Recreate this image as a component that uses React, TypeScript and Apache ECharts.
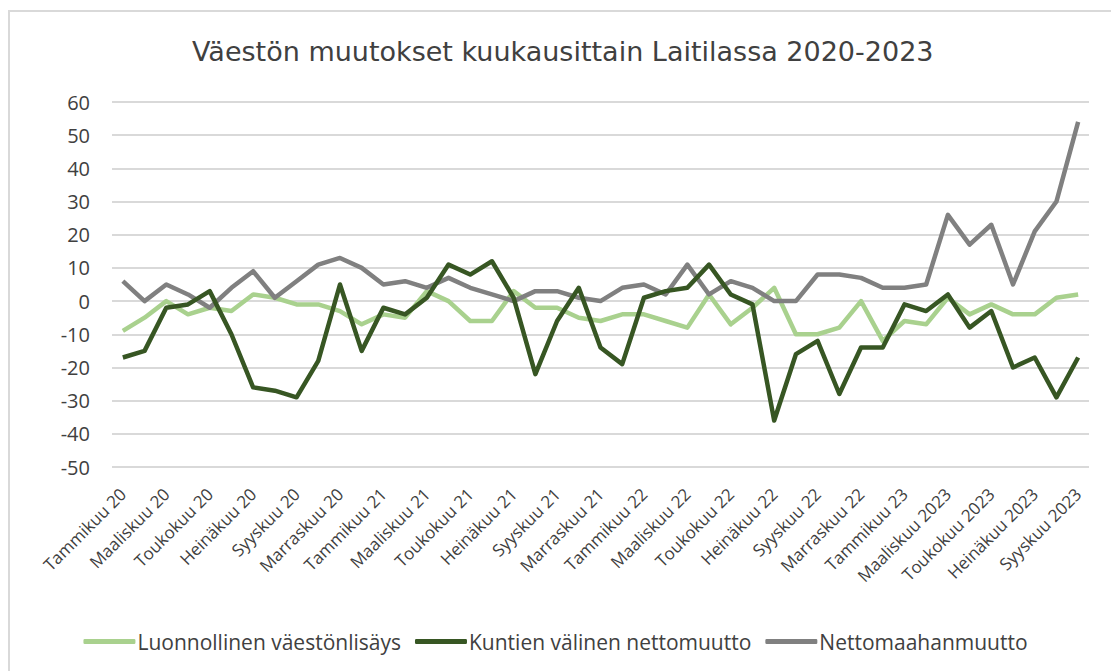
import React, { useEffect, useRef } from "react";
import * as echarts from "echarts";

const months = ["Tammikuu", "Helmikuu", "Maaliskuu", "Huhtikuu", "Toukokuu", "Kesäkuu", "Heinäkuu", "Elokuu", "Syyskuu", "Lokakuu", "Marraskuu", "Joulukuu"];
const categories: string[] = [
  ...months.map((m) => m + " 20"),
  ...months.map((m) => m + " 21"),
  ...months.map((m) => m + " 22"),
  "Tammikuu 23", "Helmikuu 2023", "Maaliskuu 2023", "Huhtikuu 2023", "Toukokuu 2023",
  "Kesäkuu 2023", "Heinäkuu 2023", "Elokuu 2023", "Syyskuu 2023",
];

const luonnollinen = [
  -9, -5, 0, -4, -2, -3, 2, 1, -1, -1, -3, -7, -4, -5, 3,
  0, -6, -6, 3, -2, -2, -5, -6, -4, -4, -6, -8, 2, -7, -2,
  4, -10, -10, -8, 0, -12, -6, -7, 1, -4, -1, -4, -4, 1, 2,
];
const kuntien = [
  -17, -15, -2, -1, 3, -10, -26, -27, -29, -18, 5, -15, -2, -4, 1,
  11, 8, 12, 1, -22, -6, 4, -14, -19, 1, 3, 4, 11, 2, -1,
  -36, -16, -12, -28, -14, -14, -1, -3, 2, -8, -3, -20, -17, -29, -17,
];
const netto = [
  6, 0, 5, 2, -2, 4, 9, 1, 6, 11, 13, 10, 5, 6, 4,
  7, 4, 2, 0, 3, 3, 1, 0, 4, 5, 2, 11, 2, 6, 4,
  0, 0, 8, 8, 7, 4, 4, 5, 26, 17, 23, 5, 21, 30, 54,
];

const seriesNames = ["Luonnollinen väestönlisäys", "Kuntien välinen nettomuutto", "Nettomaahanmuutto"];
const colors = ["#A9D18E", "#375623", "#808080"];

export default function App() {
  const ref = useRef<HTMLDivElement>(null);
  useEffect(() => {
    if (!ref.current) return;
    const chart = echarts.init(ref.current, null, { renderer: "svg" });
    const datas = [luonnollinen, kuntien, netto];
    chart.setOption({
      animation: false,
      backgroundColor: "#ffffff",
      title: {
        text: "Väestön muutokset kuukausittain Laitilassa 2020-2023",
        left: 187,
        top: 33,
        textStyle: { fontFamily: "DejaVu Sans", fontSize: 27, fontWeight: "normal", color: "#404040" },
      },
      graphic: [
        {
          type: "rect",
          shape: { x: 9, y: 11, width: 1200, height: 800 },
          style: { fill: "none", stroke: "#D9D9D9", lineWidth: 2 },
          silent: true,
        },
      ],
      legend: {
        top: 626,
        left: "center",
        itemWidth: 52,
        itemHeight: 5,
        itemGap: 14,
        icon: "roundRect",
        textStyle: { fontFamily: "Open Sans", fontSize: 21, color: "#404040", padding: [0, 0, 0, -3] },
        data: seriesNames,
      },
      grid: { left: 112, right: 22, top: 102, bottom: 204, containLabel: false },
      xAxis: {
        type: "category",
        data: categories,
        boundaryGap: true,
        axisLine: { show: false },
        axisTick: { show: false },
        axisLabel: {
          interval: 1,
          rotate: 45,
          fontFamily: "Open Sans",
          fontSize: 17,
          color: "#404040",
          margin: 24,
        },
      },
      yAxis: {
        type: "value",
        min: -50,
        max: 60,
        interval: 10,
        axisLine: { show: false },
        axisTick: { show: false },
        axisLabel: { fontFamily: "Open Sans", fontSize: 20, color: "#404040", margin: 22 },
        splitLine: { lineStyle: { color: "#D9D9D9", width: 2 } },
      },
      series: datas.map((d, i) => ({
        name: seriesNames[i],
        type: "line",
        data: d,
        symbol: "none",
        color: colors[i],
        lineStyle: { width: 4.5, color: colors[i], join: "round" },
        z: i === 1 ? 4 : i === 2 ? 3 : 2,
      })),
    });
    return () => chart.dispose();
  }, []);
  return <div ref={ref} style={{ position: "absolute", left: 0, top: 0, width: 1111, height: 671 }} />;
}
